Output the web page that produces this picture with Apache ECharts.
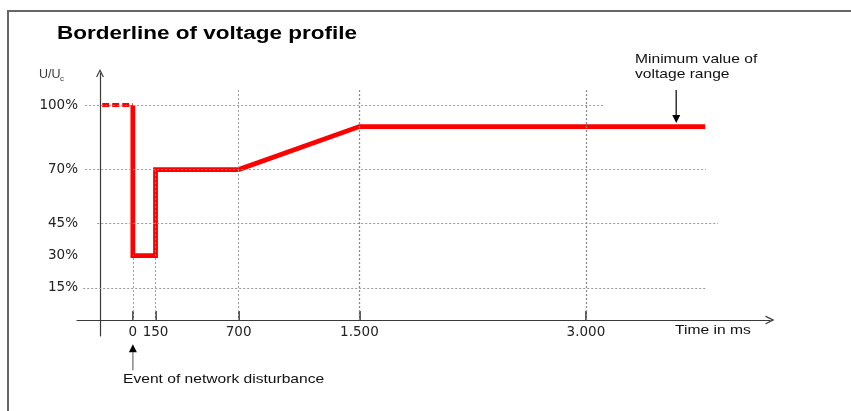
<!DOCTYPE html>
<html>
<head>
<meta charset="utf-8">
<style>
  html, body { margin: 0; padding: 0; background: #fff; }
  #chart { width: 851px; height: 411px; }
</style>
<script src="https://cdn.jsdelivr.net/npm/echarts@6/dist/echarts.min.js"></script>
</head>
<body>
<div id="chart"></div>
<script>
// Borderline of the voltage profile (time in ms, voltage in % of U/Uc)
const timeMs     = [0, 0, 150, 150, 700, 1500, 3790];
const voltagePct = [100, 30, 30, 70, 70, 90, 90];

// Pre-fault level, drawn dotted
const preTimeMs     = [-203, 0];
const preVoltagePct = [100, 100];

// Axis ticks
const xTickValues = [0, 150, 700, 1500, 3000];
const xTickLabels = ['0', '150', '700', '1.500', '3.000'];
const yTickValues = [15, 30, 45, 70, 100];
const yTickLabels = ['15%', '30%', '45%', '70%', '100%'];

const FONT = "'Liberation Sans', Arial, sans-serif";
const AXIS_FONT = "'DejaVu Sans', sans-serif";
// open arrow head for the axis ends
const chevron = 'path://M0,10 L5,0 L10,10 L8.4,10 L5,3.2 L1.6,10 Z';

const zip = (xs, ys) => xs.map((x, i) => [x, ys[i]]);

const gridDash = { type: [2, 2], color: '#9a9a9a', width: 1 };
const seg = (x1, y1, x2, y2, style) => [
  { coord: [x1, y1], lineStyle: style || gridDash },
  { coord: [x2, y2] }
];

const chart = echarts.init(document.getElementById('chart'), null, { renderer: 'canvas' });

chart.setOption({
  animation: false,
  backgroundColor: '#fff',
  grid: { left: 77, right: 81, top: 73, bottom: 75 },
  xAxis: {
    type: 'value',
    min: -370, max: 4219,
    axisLine: {
      show: true, onZero: true,
      lineStyle: { color: '#3a3a3a', width: 1.2 },
      symbol: ['none', chevron], symbolSize: [9, 11]
    },
    axisTick: { show: true, inside: true, length: 9, customValues: xTickValues,
      lineStyle: { color: '#222', width: 1.5 } },
    axisLabel: {
      customValues: xTickValues,
      formatter: v => xTickLabels[xTickValues.indexOf(v)],
      margin: -11, fontFamily: AXIS_FONT, fontSize: 13.5, color: '#222'
    },
    splitLine: { show: false }
  },
  yAxis: {
    type: 'value',
    min: -7.4, max: 114.9,
    offset: -23,
    axisLine: {
      show: true, onZero: false,
      lineStyle: { color: '#3a3a3a', width: 1.2 },
      symbol: ['none', chevron], symbolSize: [11, 8]
    },
    axisTick: { show: false },
    axisLabel: {
      customValues: yTickValues,
      formatter: v => yTickLabels[yTickValues.indexOf(v)],
      margin: 22, fontFamily: AXIS_FONT, fontSize: 13.5, color: '#222'
    },
    splitLine: { show: false }
  },
  series: [
    {
      // dashed reference grid
      type: 'line', data: [], silent: true, z: 1,
      markLine: {
        silent: true, symbol: 'none', label: { show: false },
        data: [
          seg(-316, 100, 3113, 100),
          seg(-316, 70, 3795, 70),
          seg(-236, 45, 3875, 45),
          seg(-329, 15, 3795, 15),
          seg(0, 0, 0, 30),
          seg(150, 0, 150, 70),
          seg(700, 0, 700, 107),
          seg(1500, 0, 1500, 107, { type: [2, 2], color: '#888', width: 1.3 }),
          seg(3000, 0, 3000, 107, { type: [2, 2], color: '#888', width: 1.3 })
        ]
      }
    },
    {
      name: 'Pre-fault level',
      type: 'line', data: zip(preTimeMs, preVoltagePct),
      symbol: 'none', z: 3,
      lineStyle: { color: '#ff0000', width: 4, type: [7, 3] }
    },
    {
      name: 'Borderline',
      type: 'line', data: zip(timeMs, voltagePct),
      symbol: 'none', z: 4,
      lineStyle: { color: '#ff0000', width: 4.8, join: 'miter' }
    }
  ]
});

// Annotations positioned from data coordinates
const px = (x, y) => chart.convertToPixel({ gridIndex: 0 }, [x, y]);

function arrow(from, to, shaftColor, headColor) {
  const dx = to[0] - from[0], dy = to[1] - from[1];
  const len = Math.hypot(dx, dy), ux = dx / len, uy = dy / len;
  const hl = 8, hw = 4;
  const bx = to[0] - ux * hl, by = to[1] - uy * hl;
  return [
    { type: 'line', shape: { x1: from[0], y1: from[1], x2: bx, y2: by },
      style: { stroke: shaftColor, lineWidth: 1.5 }, silent: true },
    { type: 'polygon', shape: { points: [to, [bx - uy * hw, by + ux * hw], [bx + uy * hw, by - ux * hw]] },
      style: { fill: headColor }, silent: true }
  ];
}

const evFrom = px(0, -23.3), evTo = px(0, -11.2);
const mvFrom = px(3598, 107), mvTo = px(3598, 91.6);

// Free text, slightly widened like the printed figure
function label(t, x, y, size, extra) {
  const e = extra || {};
  return {
    type: 'text', x: x, y: y, scaleX: e.scaleX || 1.2, silent: true,
    style: { text: t, fontFamily: FONT, fontSize: size, fontWeight: e.weight || 'normal',
      fill: e.fill || '#111', verticalAlign: 'middle' }
  };
}

chart.setOption({
  graphic: [
    // frame lines at top and left
    { type: 'polyline', shape: { points: [[8, 411], [8, 11], [851, 11]] },
      style: { stroke: '#666', lineWidth: 2, fill: null }, silent: true },
    label('Borderline of voltage profile', 57, 34, 18, { scaleX: 1.25, weight: 'bold', fill: '#000' }),
    label('U/U', 39, 75, 12.5, { scaleX: 1, fill: '#3a3a3a' }),
    label('c', 60, 79, 8, { scaleX: 1, fill: '#3a3a3a' }),
    label('Time in ms', 675, 330, 13),
    label('Event of network disturbance', 123, 379, 13),
    label('Minimum value of', 635, 59, 13),
    label('voltage range', 635, 74, 13),
    ...arrow(evFrom, evTo, '#888', '#000'),
    ...arrow(mvFrom, mvTo, '#333', '#000')
  ]
});
</script>
</body>
</html>
